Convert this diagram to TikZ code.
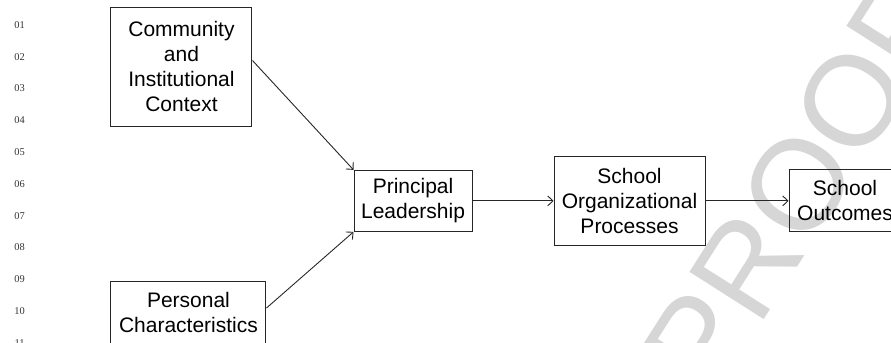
\documentclass[tikz,border=0pt]{standalone}
\usepackage{fontspec}
\setmainfont{Liberation Sans}
\newfontfamily\lnfont{Liberation Serif}
\usepackage{xcolor}
\usepackage{tikz}
\usetikzlibrary{arrows.meta}

\begin{document}
\begin{tikzpicture}[
  every node/.style={font=\fontsize{10.5}{12.5}\selectfont,align=center},
  box/.style={rectangle,draw=black!85,line width=0.5pt,inner sep=3pt},
  arr/.style={-{Straight Barb[length=2.6pt,width=5pt]},line width=0.45pt,black!85},
  lnum/.style={font=\lnfont\fontsize{5.2}{6}\selectfont,black!80,inner sep=0pt},
  proofmark/.style={font=\fontsize{64}{64}\selectfont,black!16,inner sep=0pt},
]
\useasboundingbox (0,0) rectangle (15.657,-6.027);
\clip (0,0) rectangle (15.657,-6.027);

% watermark behind everything
\node[proofmark,rotate=57.5] at (14.02,-3.25) (proof) {PROOF};

% margin line numbers
\foreach \n [count=\i] in {01,02,03,04,05,06,07,08,09,10,11}
  \node[lnum] at (0.343,{-0.439-(\i-1)*0.5588}) (ln\i) {\n};

\node[box,minimum width=2.478cm,minimum height=2.091cm] at (3.189,-1.169) (comm)
  {Community\\and\\Institutional\\Context};
\node[box,minimum width=2.724cm,minimum height=1.090cm] at (3.312,-5.483) (pers)
  {Personal\\Characteristics};
\node[box,minimum width=2.074cm,minimum height=1.072cm] at (7.258,-3.53)  (lead)
  {Principal\\Leadership};
\node[box,minimum width=2.653cm,minimum height=1.564cm] at (11.062,-3.53) (proc)
  {School\\Organizational\\Processes};
\node[box,minimum width=1.968cm,minimum height=1.090cm] at (14.849,-3.53) (outc)
  {School\\Outcomes};

\draw[arr] ([yshift=3pt]comm.east) -- (lead.north west);
\draw[arr] ([yshift=2pt]pers.east) -- (lead.south west);
\draw[arr] (lead.east) -- (proc.west);
\draw[arr] (proc.east) -- (outc.west);
\end{tikzpicture}
\end{document}
